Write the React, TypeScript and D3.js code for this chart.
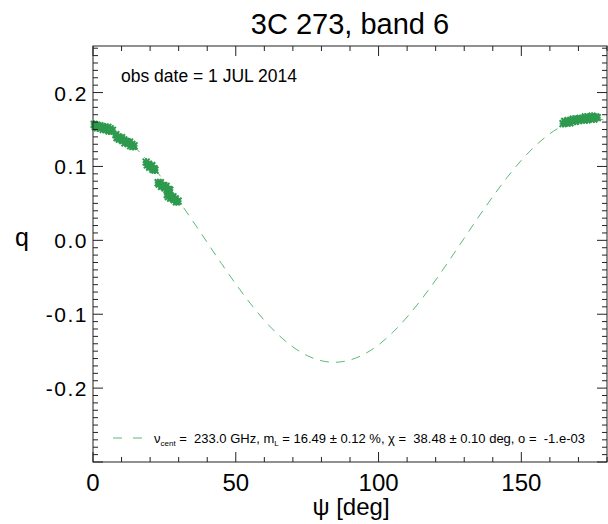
import React from "react";
import * as d3 from "d3";

const W = 608;
const H = 524;

const title = "3C 273, band 6";
const obsText = "obs date = 1 JUL 2014";
const xTitle = "ψ [deg]";
const yTitle = "q";

const xTicks = [0, 50, 100, 150];
const yTicks = [-0.2, -0.1, 0.0, 0.1, 0.2];
const yTickLabels = ["-0.2", "-0.1", "0.0", "0.1", "0.2"];

// model curve
const modelPsi = [0, 5, 10, 15, 20, 25, 30, 35, 40, 45, 50, 55, 60, 65, 70, 75, 80, 85, 90, 95, 100, 105, 110, 115, 120, 125, 130, 135, 140, 145, 150, 155, 160, 165, 170, 175, 180];
const modelQ = [0.162, 0.154, 0.1414, 0.1245, 0.1038, 0.08, 0.0537, 0.0258, -0.0029, -0.0315, -0.0591, -0.085, -0.1083, -0.1282, -0.1443, -0.156, -0.163, -0.165, -0.162, -0.154, -0.1414, -0.1245, -0.1038, -0.08, -0.0537, -0.0258, 0.0029, 0.0315, 0.0591, 0.085, 0.1083, 0.1282, 0.1443, 0.156, 0.163, 0.165, 0.162];

// observed points (psi, q)
const obsPsi = [
  0.4, 0.8, 1.2, 1.6, 2.0, 2.4, 2.8, 3.2, 3.6, 4.0, 4.4, 4.8, 5.2, 5.6, 6.0, 6.4, 6.8,
  8.0, 8.4, 8.8, 9.2, 9.6, 10.0, 10.4, 10.8, 11.2, 11.6, 12.0, 12.4, 12.8, 13.2, 13.6, 14.0, 14.4,
  18.6, 19.0, 19.4, 19.8, 20.2, 20.6, 21.0, 21.4, 21.7,
  22.8, 23.2, 23.6, 24.0, 24.4, 24.8, 25.2, 25.6, 26.0, 26.4, 26.9,
  26.0, 26.4, 26.8, 27.2, 27.6, 28.0, 28.4, 28.8, 29.2, 29.8,
  164.6, 165.2, 165.8, 166.4, 167.0, 167.6, 168.2, 168.8, 169.4, 170.0, 170.6, 171.2, 171.8, 172.4, 173.0, 173.6, 174.2, 174.8, 175.4, 176.0, 176.6,
];
const obsQ = [
  0.157, 0.154, 0.156, 0.152, 0.154, 0.155, 0.152, 0.154, 0.150, 0.153, 0.151, 0.150, 0.153, 0.148, 0.151, 0.148, 0.149,
  0.143, 0.139, 0.140, 0.137, 0.138, 0.139, 0.135, 0.136, 0.132, 0.134, 0.133, 0.131, 0.133, 0.128, 0.130, 0.127, 0.128,
  0.106, 0.102, 0.103, 0.099, 0.100, 0.101, 0.096, 0.097, 0.095,
  0.078, 0.076, 0.078, 0.073, 0.074, 0.074, 0.071, 0.073, 0.068, 0.069, 0.068,
  0.062, 0.059, 0.061, 0.057, 0.058, 0.059, 0.055, 0.056, 0.052, 0.053,
  0.158, 0.161, 0.159, 0.162, 0.159, 0.162, 0.164, 0.161, 0.164, 0.162, 0.165, 0.164, 0.163, 0.167, 0.163, 0.166, 0.165, 0.168, 0.164, 0.167, 0.166,
];

const left = 93, right = 607, top = 46, bottom = 462;
const FONT = "'Liberation Sans', Helvetica, Arial, sans-serif";
const AXIS = "#222";
const GREEN = "#2e9a4e";
const DASH_GREEN = "#5cb87a";

export default function App() {
  const x = d3.scaleLinear().domain([0, 180]).range([left, right]);
  const y = d3.scaleLinear().domain([-0.3, 0.263]).range([bottom, top]);

  const line = d3
    .line<number>()
    .x((_, i) => x(modelPsi[i]))
    .y((d) => y(d))
    .curve(d3.curveNatural);

  const xMinor = d3.range(0, 181, 10);
  const yMinor = d3.range(-30, 27, 1).map((v) => v / 100);

  const ticks: React.ReactNode[] = [];
  xMinor.forEach((v, i) => {
    const major = v % 50 === 0;
    const len = major ? 10 : 5;
    const px = x(v);
    ticks.push(<line key={"xb" + i} x1={px} x2={px} y1={bottom} y2={bottom - len} stroke={AXIS} strokeWidth={1} />);
    ticks.push(<line key={"xt" + i} x1={px} x2={px} y1={top} y2={top + len} stroke={AXIS} strokeWidth={1} />);
  });
  yMinor.forEach((v, i) => {
    const major = Math.abs(Math.round(v * 100) % 10) === 0;
    const len = major ? 10 : 5;
    const py = y(v);
    if (py < top - 0.5 || py > bottom + 0.5) return;
    ticks.push(<line key={"yl" + i} x1={left} x2={left + len} y1={py} y2={py} stroke={AXIS} strokeWidth={1} />);
    ticks.push(<line key={"yr" + i} x1={right} x2={right - len} y1={py} y2={py} stroke={AXIS} strokeWidth={1} />);
  });

  const s = 3.4;
  return (
    <svg width={W} height={H} style={{ position: "absolute", left: 0, top: 0, display: "block", background: "#fff" }} fontFamily={FONT}>
      <rect x={0} y={0} width={W} height={H} fill="#fff" />
      <text x={350} y={34} fontSize={29} textAnchor="middle" fill="#000">{title}</text>

      <path d={line(modelQ) || ""} fill="none" stroke={DASH_GREEN} strokeWidth={1} strokeDasharray="9,7" />

      <g>
        {obsPsi.map((p, i) => {
          const cx = x(p), cy = y(obsQ[i]);
          return (
            <g key={i} stroke={GREEN} strokeWidth={2}>
              <line x1={cx - s} y1={cy - s} x2={cx + s} y2={cy + s} />
              <line x1={cx - s} y1={cy + s} x2={cx + s} y2={cy - s} />
              <line x1={cx} y1={cy - s - 0.5} x2={cx} y2={cy + s + 0.5} />
              <line x1={cx - s} y1={cy} x2={cx + s} y2={cy} />
            </g>
          );
        })}
      </g>

      <rect x={left} y={top} width={right - left} height={bottom - top} fill="none" stroke={AXIS} strokeWidth={1} />
      {ticks}

      {xTicks.map((v) => (
        <text key={"xl" + v} x={x(v)} y={491} fontSize={24} textAnchor="middle" fill="#000">{v}</text>
      ))}
      {yTicks.map((v, i) => (
        <text key={"yl" + v} x={88} y={y(v) + 8} fontSize={21} letterSpacing={1.5} textAnchor="end" fill="#000">{yTickLabels[i]}</text>
      ))}

      <text x={351} y={515} fontSize={24} textAnchor="middle" fill="#000">{xTitle}</text>
      <text x={22} y={y(0) + 6} fontSize={25} textAnchor="middle" fill="#000">{yTitle}</text>

      <text x={121} y={82} fontSize={17.5} fill="#000">{obsText}</text>

      <line x1={113} x2={142} y1={438} y2={438} stroke={DASH_GREEN} strokeWidth={1} strokeDasharray="9,11" />
      <text x={154} y={442.5} fontSize={13} fill="#000" style={{ whiteSpace: "pre" }}>
        <tspan>ν</tspan>
        <tspan fontSize={8} dy={3}>cent</tspan>
        <tspan dy={-3}>{" =  233.0 GHz, m"}</tspan>
        <tspan fontSize={8} dy={3}>L</tspan>
        <tspan dy={-3}>{" = 16.49 ± 0.12 %, χ =  38.48 ± 0.10 deg, o =  -1.e-03"}</tspan>
      </text>
    </svg>
  );
}
